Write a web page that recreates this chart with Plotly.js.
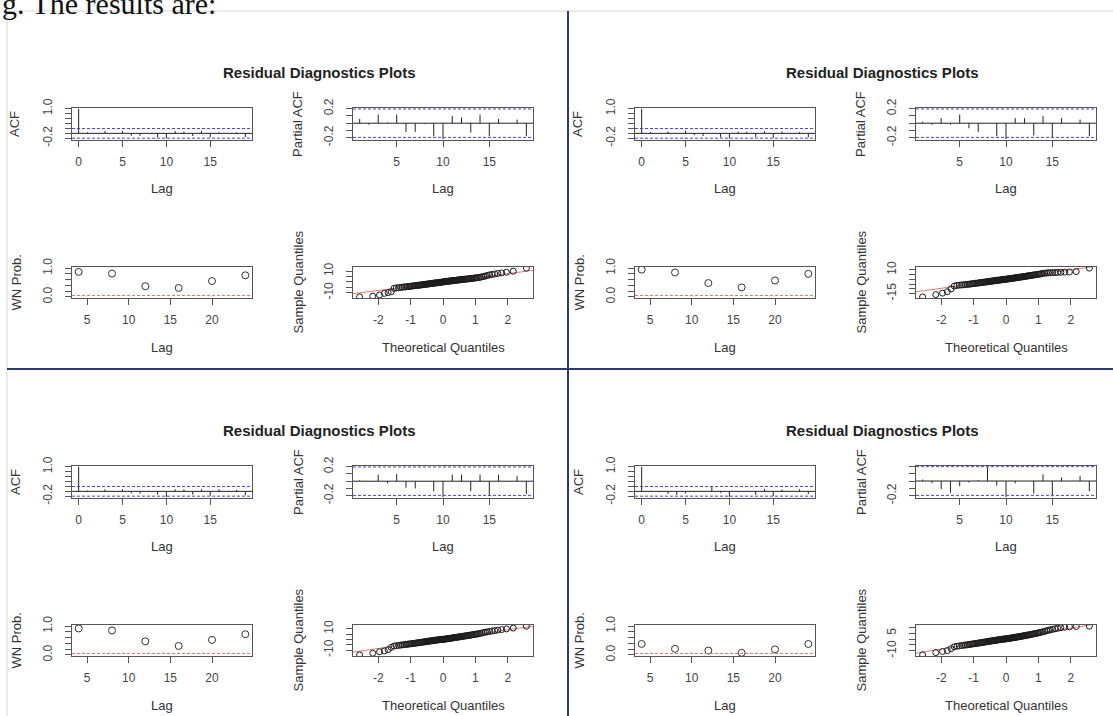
<!DOCTYPE html>
<html><head><meta charset="utf-8">
<script src="https://cdn.plot.ly/plotly-3.0.1.min.js"></script>
<style>html,body{margin:0;padding:0;background:#fff}#chart{width:1113px;height:716px}</style>
</head><body><div id="chart"></div>
<script>
// ---------------- data ----------------
const introText = 'g. The results are:';
const panelTitle = 'Residual Diagnostics Plots';

const acfLags = [0,1,2,3,4,5,6,7,8,9,10,11,12,13,14,15,16,17,18,19];
const pacfLags = [1,2,3,4,5,6,7,8,9,10,11,12,13,14,15,16,17,18,19];
const wnLags = [4,8,12,16,20,24];

const acfTL = [1,0.04,-0.02,0.10,0.01,0.10,-0.10,-0.10,-0.01,-0.15,-0.20,0.09,0.07,-0.11,0.10,-0.16,0.05,0.00,0.04,-0.15];
const acfTR = [1,0.05,-0.01,0.07,-0.02,0.11,-0.07,-0.11,0.00,-0.16,-0.21,0.07,0.07,-0.15,0.09,-0.18,0.07,0.01,0.05,-0.16];
const acfBL = [1,0.03,0.00,0.08,-0.03,0.09,-0.08,-0.09,0.00,-0.13,-0.22,0.08,0.08,-0.13,0.08,-0.18,0.08,0.00,0.06,-0.16];
const acfBR = [1,0.02,-0.03,-0.10,-0.14,-0.08,-0.03,0.00,0.18,-0.06,-0.22,-0.03,0.00,-0.14,0.10,-0.19,0.07,0.00,0.08,-0.11];

const pacfTL = [0.06,-0.02,0.12,0.01,0.12,-0.12,-0.12,-0.01,-0.18,-0.22,0.10,0.08,-0.13,0.12,-0.18,0.06,0.00,0.05,-0.18];
const pacfTR = [0.02,-0.02,0.07,-0.02,0.12,-0.07,-0.12,0.00,-0.18,-0.22,0.07,0.07,-0.17,0.10,-0.20,0.07,0.00,0.05,-0.18];
const pacfBL = [0.01,0.00,0.09,-0.03,0.10,-0.09,-0.10,0.00,-0.14,-0.22,0.09,0.09,-0.14,0.09,-0.20,0.09,0.00,0.07,-0.18];
const pacfBR = [0.02,-0.03,-0.11,-0.16,-0.07,-0.02,0.01,0.19,-0.06,-0.22,-0.03,0.00,-0.17,0.09,-0.21,0.05,0.00,0.07,-0.14];

const wnTL = [0.87,0.81,0.37,0.31,0.55,0.75];
const wnTR = [0.95,0.85,0.48,0.33,0.57,0.80];
const wnBL = [0.92,0.85,0.47,0.31,0.52,0.72];
const wnBR = [0.38,0.21,0.15,0.07,0.19,0.38];

const ciLevel = 0.196;
const wnLevel = 0.05;

// theoretical normal quantiles (n = 100)
const qqTheo = [-2.576,-2.170,-1.960,-1.812,-1.695,-1.598,-1.514,-1.440,-1.372,-1.311,-1.254,-1.200,-1.150,-1.103,-1.058,-1.015,-0.974,-0.935,-0.896,-0.860,-0.824,-0.789,-0.755,-0.722,-0.690,-0.659,-0.628,-0.598,-0.568,-0.539,-0.510,-0.482,-0.454,-0.426,-0.399,-0.372,-0.345,-0.319,-0.292,-0.266,-0.240,-0.215,-0.189,-0.164,-0.138,-0.113,-0.088,-0.063,-0.038,-0.013,
 0.013,0.038,0.063,0.088,0.113,0.138,0.164,0.189,0.215,0.240,0.266,0.292,0.319,0.345,0.372,0.399,0.426,0.454,0.482,0.510,0.539,0.568,0.598,0.628,0.659,0.690,0.722,0.755,0.789,0.824,0.860,0.896,0.935,0.974,1.015,1.058,1.103,1.150,1.200,1.254,1.311,1.372,1.440,1.514,1.598,1.695,1.812,1.960,2.170,2.576];
const qqTL = [-13.8,-13.2,-12.1,-10.6,-9.9,-9.1,-5.9,-5.5,-5.4,-5.0,-4.9,-4.6,-4.6,-4.3,-4.2,-4.1,-3.8,-3.8,-3.5,-3.5,-3.3,-3.2,-3.0,-3.0,-2.8,-2.6,-2.6,-2.4,-2.3,-2.2,-2.0,-2.0,-1.8,-1.8,-1.6,-1.5,-1.3,-1.3,-1.1,-1.1,-0.9,-0.9,-0.8,-0.6,-0.6,-0.4,-0.4,-0.3,-0.1,-0.1,
 0.1,0.2,0.3,0.4,0.4,0.6,0.7,0.8,0.8,1.0,1.1,1.2,1.2,1.4,1.5,1.5,1.7,1.8,1.9,1.9,2.1,2.2,2.3,2.3,2.5,2.6,2.7,2.8,2.9,3.1,3.2,3.3,3.5,3.6,3.8,4.0,4.1,4.4,4.7,5.1,5.5,6.1,6.6,7.0,7.4,7.9,8.4,9.0,10.0,12.8];
const qqTR = [-18.4,-16.0,-14.5,-13.0,-10.0,-7.0,-6.4,-6.1,-5.9,-5.7,-5.5,-5.3,-5.1,-4.9,-4.7,-4.5,-4.3,-4.1,-4.0,-3.8,-3.6,-3.5,-3.3,-3.2,-3.0,-2.9,-2.7,-2.6,-2.5,-2.3,-2.2,-2.1,-1.9,-1.8,-1.6,-1.5,-1.4,-1.3,-1.1,-1.0,-0.9,-0.8,-0.7,-0.6,-0.4,-0.3,-0.2,-0.1,0.0,0.1,
 0.2,0.3,0.5,0.6,0.7,0.8,1.0,1.1,1.2,1.3,1.5,1.6,1.7,1.9,2.0,2.2,2.3,2.4,2.6,2.7,2.9,3.0,3.2,3.3,3.5,3.7,3.9,4.0,4.2,4.4,4.6,4.8,5.0,5.2,5.4,5.7,6.0,6.3,6.5,6.7,6.9,7.0,7.1,7.2,7.3,7.4,7.6,7.8,8.2,11.8];
const qqBL = [-14.5,-13.0,-11.6,-10.8,-9.6,-7.5,-6.2,-5.8,-5.6,-5.3,-5.1,-4.9,-4.7,-4.5,-4.3,-4.1,-4.0,-3.8,-3.6,-3.5,-3.3,-3.2,-3.0,-2.9,-2.7,-2.6,-2.5,-2.3,-2.2,-2.1,-1.9,-1.8,-1.7,-1.5,-1.4,-1.3,-1.2,-1.1,-1.0,-0.8,-0.7,-0.6,-0.5,-0.4,-0.3,-0.2,-0.1,0.0,0.0,0.1,
 0.2,0.3,0.4,0.5,0.6,0.8,0.9,1.0,1.1,1.2,1.3,1.5,1.6,1.7,1.8,2.0,2.1,2.2,2.4,2.5,2.6,2.8,2.9,3.1,3.2,3.4,3.5,3.7,3.9,4.0,4.2,4.4,4.6,4.8,5.0,5.2,5.5,5.8,6.1,6.5,6.9,7.2,7.6,8.0,8.4,8.9,9.4,10.0,10.8,12.6];
const qqBR = [-13.4,-11.5,-10.6,-9.8,-8.2,-6.6,-6.1,-5.8,-5.5,-5.3,-5.1,-4.9,-4.7,-4.5,-4.3,-4.1,-3.9,-3.8,-3.6,-3.5,-3.3,-3.2,-3.0,-2.9,-2.7,-2.6,-2.4,-2.3,-2.2,-2.0,-1.9,-1.8,-1.7,-1.5,-1.4,-1.3,-1.2,-1.1,-1.0,-0.8,-0.7,-0.6,-0.5,-0.4,-0.3,-0.2,-0.1,0.0,0.0,0.1,
 0.2,0.3,0.4,0.5,0.6,0.7,0.9,1.0,1.1,1.2,1.3,1.5,1.6,1.7,1.8,2.0,2.1,2.2,2.4,2.5,2.7,2.8,3.0,3.1,3.3,3.4,3.6,3.8,4.0,4.2,4.4,4.6,4.8,5.0,5.3,5.6,5.9,6.2,6.6,7.0,7.4,7.8,8.2,8.7,9.1,9.6,10.0,10.3,10.6,10.9];

// tick labels
const acfXTicks = [0,5,10,15];
const pacfXTicks = [5,10,15];
const wnXTicks = [5,10,15,20];
const qqXTicks = [-2,-1,0,1,2];
const acfYTicks = [-0.2,0,0.2,0.4,0.6,0.8,1.0];
const acfYText = ['-0.2','','','','','','1.0'];
const pacfYTicks = [-0.2,-0.1,0,0.1,0.2];
const pacfYText = ['-0.2','','','','0.2'];
const pacfYTextBR = ['-0.2','','','',''];
const wnYTicks = [0,0.2,0.4,0.6,0.8,1.0];
const wnYText = ['0.0','','','','','1.0'];
const qqYTicks10 = [-10,-5,0,5,10];
const qqYText10 = ['-10','','','','10'];
const qqYTicks15 = [-15,-10,-5,0,5,10];
const qqYText15 = ['-15','','','','','10'];
const qqYTextBR = ['-10','','','5',''];

const panels = [
  {acf:acfTL, pacf:pacfTL, wn:wnTL, qq:qqTL, pacfText:pacfYText, pacfRange:[-0.225,0.21], qqRange:[-14.9,13.9], qqTicks:qqYTicks10, qqText:qqYText10},
  {acf:acfTR, pacf:pacfTR, wn:wnTR, qq:qqTR, pacfText:pacfYText, pacfRange:[-0.225,0.21], qqRange:[-19.6,13.0], qqTicks:qqYTicks15, qqText:qqYText15},
  {acf:acfBL, pacf:pacfBL, wn:wnBL, qq:qqBL, pacfText:pacfYText, pacfRange:[-0.225,0.21], qqRange:[-15.6,13.7], qqTicks:qqYTicks10, qqText:qqYText10},
  {acf:acfBR, pacf:pacfBR, wn:wnBR, qq:qqBR, pacfText:pacfYTextBR, pacfRange:[-0.225,0.205], qqRange:[-14.4,11.9], qqTicks:qqYTicks10, qqText:qqYTextBR}
];

// ---------------- layout helpers ----------------
const W = 1113, H = 716;
const px = v => v / W;
const py = v => 1 - v / H;
const FONT = '"Liberation Sans", Arial, sans-serif';
const offsets = [[0,0],[563,0],[0,358],[563,358]];
const boxes = {acf:[72,252,108,139.5], pacf:[353,533,108,139.5], wn:[72,252,267,298], qq:[353,533,267,298]};

const layout = {
  width: W, height: H, margin:{l:0,r:0,t:0,b:0,pad:0},
  paper_bgcolor:'#ffffff', plot_bgcolor:'#ffffff', showlegend:false,
  shapes:[], annotations:[]
};
const traces = [];
let n = 0;

function addAxes(box, dx, dy, xr, xt, yr, yt, ytt) {
  n++;
  const xk = n === 1 ? 'xaxis' : 'xaxis' + n, yk = n === 1 ? 'yaxis' : 'yaxis' + n;
  const xid = n === 1 ? 'x' : 'x' + n, yid = n === 1 ? 'y' : 'y' + n;
  const common = {
    showline:true, mirror:true, linecolor:'#555', linewidth:1,
    ticks:'outside', ticklen:6, tickwidth:1, tickcolor:'#555',
    showgrid:false, zeroline:false, fixedrange:true, tickmode:'array',
    tickfont:{family:FONT, size:12, color:'#444'}
  };
  layout[xk] = Object.assign({}, common, {
    domain:[px(box[0]+dx), px(box[1]+dx)], anchor:yid, range:xr,
    tickvals:xt, ticktext:xt.map(String), ticklabelstandoff:5
  });
  layout[yk] = Object.assign({}, common, {
    domain:[py(box[3]+dy), py(box[2]+dy)], anchor:xid, range:yr,
    tickvals:yt, ticktext:ytt, tickangle:-90, ticklabelstandoff:8
  });
  return {x:xid, y:yid};
}
function hline(ids, v, color, dash) {
  layout.shapes.push({type:'line', xref:ids.x + ' domain', x0:0, x1:1, yref:ids.y, y0:v, y1:v,
    line:{color:color, width:1, dash:dash}});
}
function spikes(ids, lags, vals) {
  const x = [], y = [];
  lags.forEach((l, i) => { x.push(l, l, null); y.push(0, vals[i], null); });
  traces.push({type:'scatter', mode:'lines', x:x, y:y, xaxis:ids.x, yaxis:ids.y,
    line:{color:'#222', width:1}, hoverinfo:'skip'});
}
function txt(t, x, y, extra) {
  layout.annotations.push(Object.assign({text:t, x:px(x), y:py(y), xref:'paper', yref:'paper',
    showarrow:false, xanchor:'center', yanchor:'middle',
    font:{family:FONT, size:13, color:'#333'}}, extra || {}));
}
function interpAt(xs, ys, x0) {
  for (let i = 1; i < xs.length; i++) {
    if (xs[i] >= x0) { const t = (x0 - xs[i-1]) / (xs[i] - xs[i-1]); return ys[i-1] + t * (ys[i] - ys[i-1]); }
  }
  return ys[ys.length - 1];
}

// ---------------- build panels ----------------
panels.forEach((P, pi) => {
  const [dx, dy] = offsets[pi];
  txt(panelTitle, 319 + dx, 72 + dy, {font:{family:FONT, size:15, color:'#222', weight:'bold'}});

  // ACF
  let ids = addAxes(boxes.acf, dx, dy, [-0.76, 19.76], acfXTicks, [-0.25, 1.03], acfYTicks, acfYText);
  spikes(ids, acfLags, P.acf);
  hline(ids, 0, '#222', 'solid');
  hline(ids, ciLevel, '#4646d8', '3px,2px');
  hline(ids, -ciLevel, '#4646d8', '3px,2px');
  txt('Lag', 162 + dx, 188 + dy);
  txt('ACF', 15 + dx, 124 + dy, {textangle:-90});

  // PACF
  ids = addAxes(boxes.pacf, dx, dy, [0.28, 19.72], pacfXTicks, P.pacfRange, pacfYTicks, P.pacfText);
  spikes(ids, pacfLags, P.pacf);
  hline(ids, 0, '#222', 'solid');
  hline(ids, ciLevel, '#4646d8', '3px,2px');
  hline(ids, -ciLevel, '#4646d8', '3px,2px');
  txt('Lag', 443 + dx, 188 + dy);
  txt('Partial ACF', 298 + dx, 124 + dy, {textangle:-90});

  // WN prob
  ids = addAxes(boxes.wn, dx, dy, [3.2, 24.8], wnXTicks, [-0.04, 1.04], wnYTicks, wnYText);
  traces.push({type:'scatter', mode:'markers', x:wnLags, y:P.wn, xaxis:ids.x, yaxis:ids.y,
    marker:{symbol:'circle-open', size:7, color:'#333', line:{width:1, color:'#333'}}, hoverinfo:'skip'});
  hline(ids, wnLevel, '#e07070', '3px,2px');
  txt('Lag', 162 + dx, 347 + dy);
  txt('WN Prob.', 16 + dx, 282.5 + dy, {textangle:-90});

  // QQ
  const qxr = [-2.78, 2.78];
  ids = addAxes(boxes.qq, dx, dy, qxr, qqXTicks, P.qqRange, P.qqTicks, P.qqText);
  const q1 = interpAt(qqTheo, P.qq, -0.6745), q3 = interpAt(qqTheo, P.qq, 0.6745);
  const slope = (q3 - q1) / (2 * 0.6745), icpt = (q1 + q3) / 2;
  traces.push({type:'scatter', mode:'lines', x:qxr, y:qxr.map(v => icpt + slope * v), xaxis:ids.x, yaxis:ids.y,
    line:{color:'#e07a7a', width:1}, hoverinfo:'skip'});
  traces.push({type:'scatter', mode:'markers', x:qqTheo, y:P.qq, xaxis:ids.x, yaxis:ids.y,
    marker:{symbol:'circle-open', size:6, color:'#1a1a1a', line:{width:1, color:'#1a1a1a'}}, hoverinfo:'skip'});
  txt('Theoretical Quantiles', 443 + dx, 347 + dy);
  txt('Sample Quantiles', 298 + dx, 282.5 + dy, {textangle:-90});
});

// page decorations
layout.shapes.push({type:'line', xref:'paper', yref:'paper', x0:px(7), x1:1, y0:py(11), y1:py(11), line:{color:'#d6d6d6', width:1}});
layout.shapes.push({type:'line', xref:'paper', yref:'paper', x0:px(7), x1:px(7), y0:py(11), y1:0, line:{color:'#d6d6d6', width:1}});
layout.shapes.push({type:'line', xref:'paper', yref:'paper', x0:px(568), x1:px(568), y0:py(11), y1:0, line:{color:'#2c3a68', width:2}});
layout.shapes.push({type:'line', xref:'paper', yref:'paper', x0:px(7), x1:1, y0:py(369), y1:py(369), line:{color:'#2c3a68', width:2}});

layout.annotations.push({text:introText, x:0, y:py(22), xref:'paper', yref:'paper', showarrow:false,
  xanchor:'left', yanchor:'bottom', font:{family:'"Liberation Serif", "Times New Roman", serif', size:30, color:'#111'}});

Plotly.newPlot('chart', traces, layout, {staticPlot:true, displayModeBar:false});
</script>
</body></html>
